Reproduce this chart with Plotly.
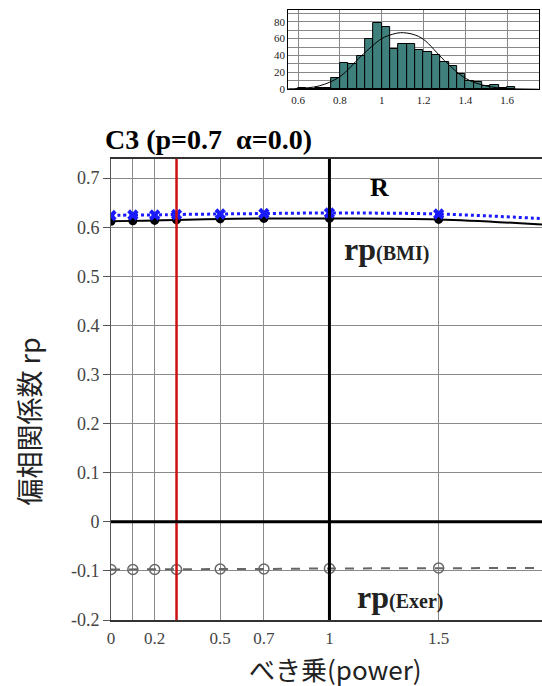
import plotly.graph_objects as go

# ---- main chart data ----
power = [0, 0.1, 0.2, 0.3, 0.5, 0.7, 1.0, 1.5, 2.0]
r_all = [0.624, 0.625, 0.625, 0.626, 0.627, 0.628, 0.629, 0.627, 0.617]
rp_bmi = [0.612, 0.613, 0.614, 0.615, 0.617, 0.618, 0.618, 0.616, 0.605]
rp_exer = [-0.097, -0.097, -0.097, -0.097, -0.096, -0.096, -0.095, -0.094, -0.094]

x_tickvals = [0, 0.1, 0.2, 0.5, 0.7, 1, 1.5, 2]
x_ticktext = ["0", "", "0.2", "0.5", "0.7", "1", "1.5", "2"]
y_tickvals = [-0.2, -0.1, 0, 0.1, 0.2, 0.3, 0.4, 0.5, 0.6, 0.7]
y_ticktext = ["-0.2", "-0.1", "0", "0.1", "0.2", "0.3", "0.4", "0.5", "0.6", "0.7"]

# ---- inset histogram data ----
bin_left = [0.60, 0.64, 0.68, 0.72, 0.76, 0.80, 0.84, 0.88, 0.92, 0.96, 1.00, 1.04, 1.08,
            1.12, 1.16, 1.20, 1.24, 1.28, 1.32, 1.36, 1.40, 1.44, 1.48, 1.52, 1.56, 1.60]
bin_count = [1, 0, 1, 2, 13, 31, 30, 39, 60, 78, 74, 48, 53,
             53, 47, 44, 40, 32, 28, 18, 10, 9, 4, 5, 1, 3]
bin_width = 0.04
curve_x = [0.55, 0.6, 0.7, 0.8, 0.9, 1.0, 1.05, 1.09, 1.15, 1.2, 1.3, 1.4, 1.5, 1.6, 1.7, 1.75]
curve_y = [0.5, 1, 4, 15, 39, 60, 65, 67, 65, 59, 34, 13, 4, 1, 0.3, 0.1]

serif = "Liberation Serif"
sans = "Noto Sans CJK JP"

fig = go.Figure()

fig.add_trace(go.Scatter(
    x=power, y=rp_exer, mode="lines+markers", xaxis="x", yaxis="y",
    line=dict(color="#666666", width=2, dash="dash"),
    marker=dict(symbol="circle-open", size=10, color="#666666", line=dict(width=1.5)),
    showlegend=False))
fig.add_trace(go.Scatter(
    x=power, y=rp_bmi, mode="lines+markers", xaxis="x", yaxis="y",
    line=dict(color="black", width=2, shape="spline"),
    marker=dict(symbol="circle", size=9, color="black"),
    showlegend=False))
fig.add_trace(go.Scatter(
    x=power, y=r_all, mode="lines+markers", xaxis="x", yaxis="y",
    line=dict(color="#1a1aff", width=3, dash="dot", shape="spline"),
    marker=dict(symbol="x", size=10, color="#1a1aff"),
    showlegend=False))

# inset histogram
fig.add_trace(go.Bar(
    x=[b + bin_width / 2 for b in bin_left], y=bin_count, width=bin_width,
    xaxis="x2", yaxis="y2",
    marker=dict(color="#3f7f7c", line=dict(color="black", width=1)),
    showlegend=False))
fig.add_trace(go.Scatter(
    x=curve_x, y=curve_y, mode="lines", xaxis="x2", yaxis="y2",
    line=dict(color="black", width=1, shape="spline"), showlegend=False))

shapes = [
    dict(type="line", xref="x", yref="paper", x0=0.3, x1=0.3, y0=0.0962, y1=0.7682,
         line=dict(color="#cc1111", width=2.5)),
    dict(type="line", xref="x", yref="paper", x0=1, x1=1, y0=0.0962, y1=0.7682,
         line=dict(color="black", width=3)),
    dict(type="line", xref="paper", yref="y", x0=0, x1=1, y0=0, y1=0,
         line=dict(color="black", width=3)),
]

annotations = [
    dict(text="<b>C3 (p=0.7  α=0.0)</b>", xref="paper", yref="paper",
         x=-0.0186, y=0.796, xanchor="left", yanchor="middle", showarrow=False,
         font=dict(family=serif, size=28, color="black")),
    dict(text="<b>R</b>", xref="x", yref="y", x=1.23, y=0.68, showarrow=False,
         font=dict(family=serif, size=26, color="black")),
    dict(text="<b>rp<span style='font-size:20px'>(BMI)</span></b>", xref="x", yref="y",
         x=1.26, y=0.556, showarrow=False,
         font=dict(family=serif, size=32, color="#222")),
    dict(text="<b>rp<span style='font-size:20px'>(Exer)</span></b>", xref="x", yref="y",
         x=1.325, y=-0.154, showarrow=False,
         font=dict(family=serif, size=32, color="#222")),
    dict(text="偏相関係数 rp", xref="paper", yref="paper", x=-0.192, y=0.386,
         textangle=-90, showarrow=False, xanchor="center", yanchor="middle",
         font=dict(family=sans, size=27, color="#222")),
    dict(text="べき乗(power)", xref="paper", yref="paper", x=0.52, y=0.0262,
         showarrow=False, xanchor="center", yanchor="middle",
         font=dict(family=sans, size=26, color="#222")),
]

fig.update_layout(
    width=542, height=686,
    margin=dict(l=111, r=0, t=0, b=0),
    paper_bgcolor="white", plot_bgcolor="white",
    xaxis=dict(domain=[0, 1], anchor="y", range=[0, 1.973], automargin=False,
               tickvals=x_tickvals, ticktext=x_ticktext,
               showgrid=True, gridcolor="#8a8a8a", gridwidth=1,
               showline=True, linecolor="#333", linewidth=2, mirror=True,
               ticks="", zeroline=False, ticklabelstandoff=2,
               tickfont=dict(family=serif, size=17, color="#444")),
    yaxis=dict(domain=[0.0962, 0.7682], anchor="x", range=[-0.2, 0.739], automargin=False,
               tickvals=y_tickvals, ticktext=y_ticktext,
               showgrid=True, gridcolor="#8a8a8a", gridwidth=1,
               showline=True, linecolor="#555", linewidth=1,
               ticks="outside", ticklen=7, tickcolor="#555", zeroline=False,
               tickfont=dict(family=serif, size=18, color="#444")),
    xaxis2=dict(domain=[0.411, 0.994], anchor="y2", range=[0.552, 1.754], automargin=False,
                tickvals=[0.6, 0.8, 1, 1.2, 1.4, 1.6], ticktext=["0.6", "0.8", "1", "1.2", "1.4", "1.6"],
                showgrid=True, gridcolor="#888", gridwidth=1,
                showline=True, linecolor="black", linewidth=1, mirror=True,
                ticks="", zeroline=False,
                tickfont=dict(family=serif, size=11, color="#222")),
    yaxis2=dict(domain=[0.8698, 0.9854], anchor="x2", range=[0, 93.8], automargin=False,
                tickvals=[0, 10, 20, 30, 40, 50, 60, 70, 80, 90],
                ticktext=["0", "", "20", "", "40", "", "60", "", "80", ""],
                showgrid=True, gridcolor="#888", gridwidth=1,
                showline=True, linecolor="black", linewidth=1, mirror=True,
                ticks="", zeroline=False,
                tickfont=dict(family=serif, size=11, color="#222")),
    bargap=0,
    shapes=shapes,
    annotations=annotations,
)

fig.write_html("out.html")
